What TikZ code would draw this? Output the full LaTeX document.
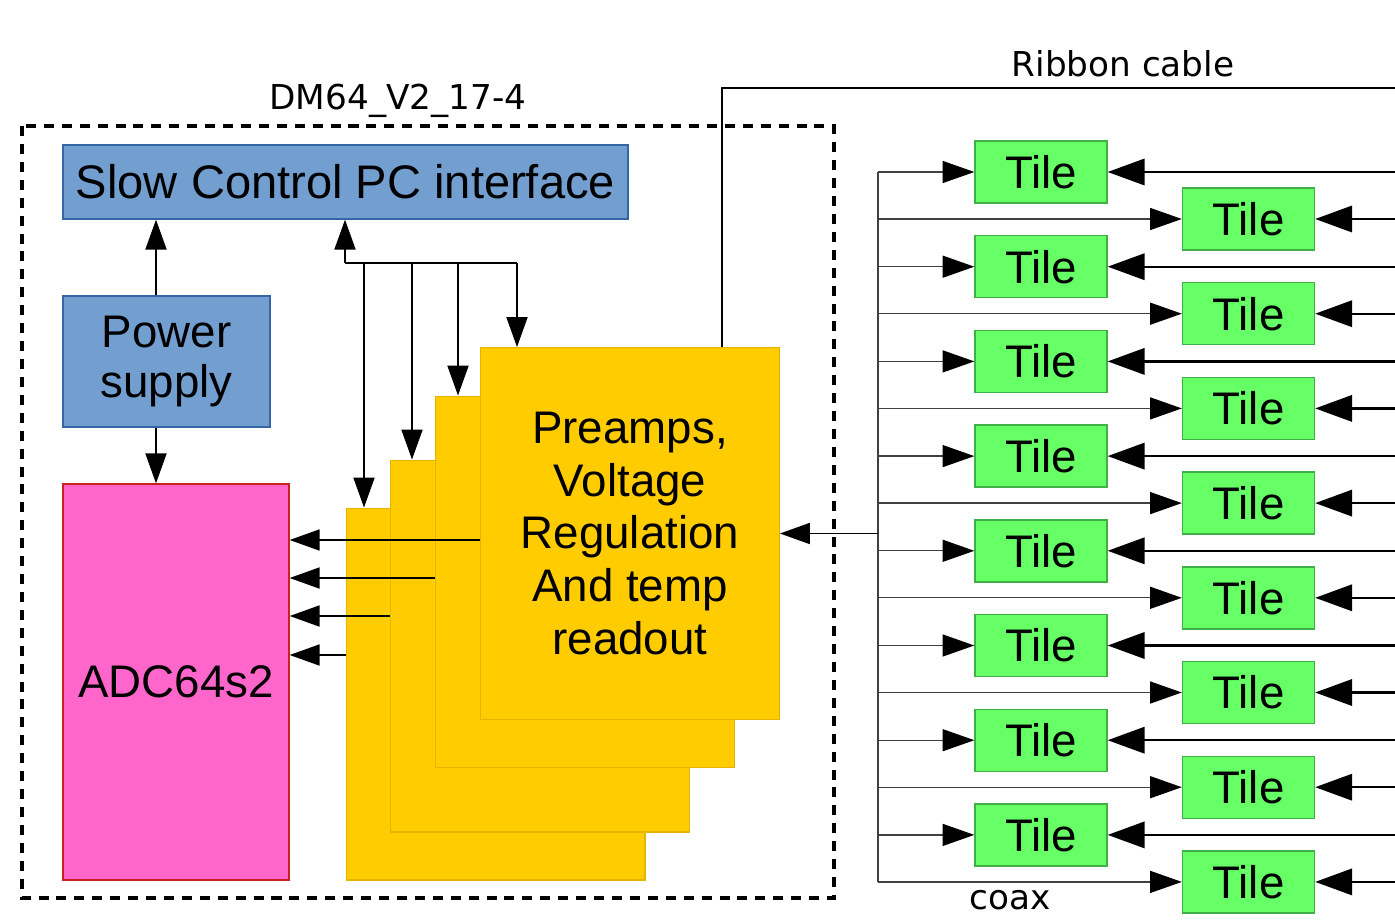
\documentclass[tikz,border=0pt]{standalone}
\usepackage{fontspec}
\setmainfont{Liberation Sans}
\newfontfamily\labelfont{DejaVu Sans}
\usetikzlibrary{arrows.meta}
\definecolor{scblue}{HTML}{729FCF}
\definecolor{scbluedark}{HTML}{3465A4}
\definecolor{adcpink}{HTML}{FF66CC}
\definecolor{adcpinkdark}{HTML}{C9211E}
\definecolor{boardyellow}{HTML}{FFCC00}
\definecolor{boardyellowdark}{HTML}{E6B300}
\definecolor{tilegreen}{HTML}{66FF66}
\definecolor{tilegreendark}{HTML}{3FAF46}
\tikzset{
  bigtext/.style={font=\fontsize{26}{30}\selectfont},
  labeltext/.style={font=\labelfont\fontsize{19.5}{22}\selectfont},
  blockbox/.style={draw=scbluedark, fill=scblue, line width=0.8pt, bigtext, align=center, inner sep=0pt},
  board/.style={draw=boardyellowdark, fill=boardyellow, line width=0.6pt, minimum width=5.98cm, minimum height=7.44cm, inner sep=0pt},
  tile/.style={draw=tilegreendark, fill=tilegreen, line width=0.8pt, minimum width=2.64cm, minimum height=1.24cm, inner sep=0pt, bigtext},
  arr/.style={line width=0.8pt, -{Triangle[length=17pt,width=12pt]}},
  coax/.style={line width=0.7pt, black!75},
  coaxarr/.style={coax, -{Triangle[length=18pt,width=12.5pt,color=black]}},
  ribbon/.style={line width=1.3pt},
  ribbonarr/.style={ribbon, -{Triangle[length=21pt,width=15pt]}}
}

\begin{document}
\begin{tikzpicture}[x=0.02cm, y=-0.02cm]
        \useasboundingbox (0,0) rectangle (1395,922);
        % board frame
        \draw[line width=2.2pt, dash pattern=on 5.7pt off 4.5pt] (22,126) rectangle (834,898);
        \node (dm) [labeltext] at (398,101) {DM64\_V2\_17-4};
        \node (rc) [labeltext] at (1123,64) {Ribbon cable};
        \node (cx) [labeltext, inner sep=0pt, anchor=base] at (1010,909) {coax};

        \node (sc) [blockbox, font=\fontsize{26.8}{30}\selectfont, minimum width=11.3cm, minimum height=1.48cm] at (345.5,182) {Slow Control PC interface};
        \node (ps) [blockbox, minimum width=4.14cm, minimum height=2.62cm] at (166.5,361.5) {Power\\[-2pt]supply};
        \node (adc) [blockbox, draw=adcpinkdark, fill=adcpink, minimum width=4.52cm, minimum height=7.92cm] at (176,682) {ADC64s2};

        % preamp boards, back to front
        \node (b1) [board] at (495.5,694) {};
        \node (b2) [board] at (540,646) {};
        \node (b3) [board] at (585,582) {};
        \node (b4) [board, bigtext, align=center] at (630,533.5) {Preamps,\\Voltage\\Regulation\\And temp\\readout};

        % tiles
        \foreach \i in {0,...,7} {
                \node (tl\i) [tile] at (1041,172+94.7*\i) {Tile};
                \node (tr\i) [tile] at (1248.5,219+94.7*\i) {Tile};
                \coordinate (el\i) at (1395,172+94.7*\i);
                \coordinate (er\i) at (1395,219+94.7*\i);
        }

        \coordinate (bus) at (345,263);
        \coordinate (cxtop) at (878,172);
        \coordinate (cxbot) at (878,882);
        \coordinate (rbtop) at (722,88);
        \coordinate (rbend) at (1395,88);

        \draw[arr] (ps.north -| 156,0) -- (sc.south -| 156,0);
        \draw[arr] (ps.south -| 156,0) -- (adc.north -| 156,0);
        \draw[arr] (bus) -- (sc.south -| bus);
        \draw[line width=0.8pt] (bus) -- (517,263);
        \draw[arr] (364,263) -- (b1.north -| 364,0);
        \draw[arr] (412,263) -- (b2.north -| 412,0);
        \draw[arr] (458,263) -- (b3.north -| 458,0);
        \draw[arr] (517,263) -- (b4.north -| 517,0);

        \draw[arr] (b4.west |- 0,540) -- (adc.east |- 0,540);
        \draw[arr] (b3.west |- 0,578) -- (adc.east |- 0,578);
        \draw[arr] (b2.west |- 0,616) -- (adc.east |- 0,616);
        \draw[arr] (b1.west |- 0,655) -- (adc.east |- 0,655);

        % coax
        \draw[coax] (cxtop) -- (cxbot);
        \draw[arr] (cxtop |- b4.east) -- (b4.east);
        \foreach \i in {0,...,7} {
                \draw[coaxarr] (tl\i.west -| cxtop) -- (tl\i.west);
                \draw[coaxarr] (tr\i.west -| cxtop) -- (tr\i.west);
        }

        % ribbon cable
        \draw[ribbon] (b4.north -| rbtop) -- (rbtop) -- (rbend);
        \foreach \i in {0,...,7} {
                \draw[ribbonarr] (el\i) -- (tl\i.east);
                \draw[ribbonarr] (er\i) -- (tr\i.east);
        }
\end{tikzpicture}
\end{document}
